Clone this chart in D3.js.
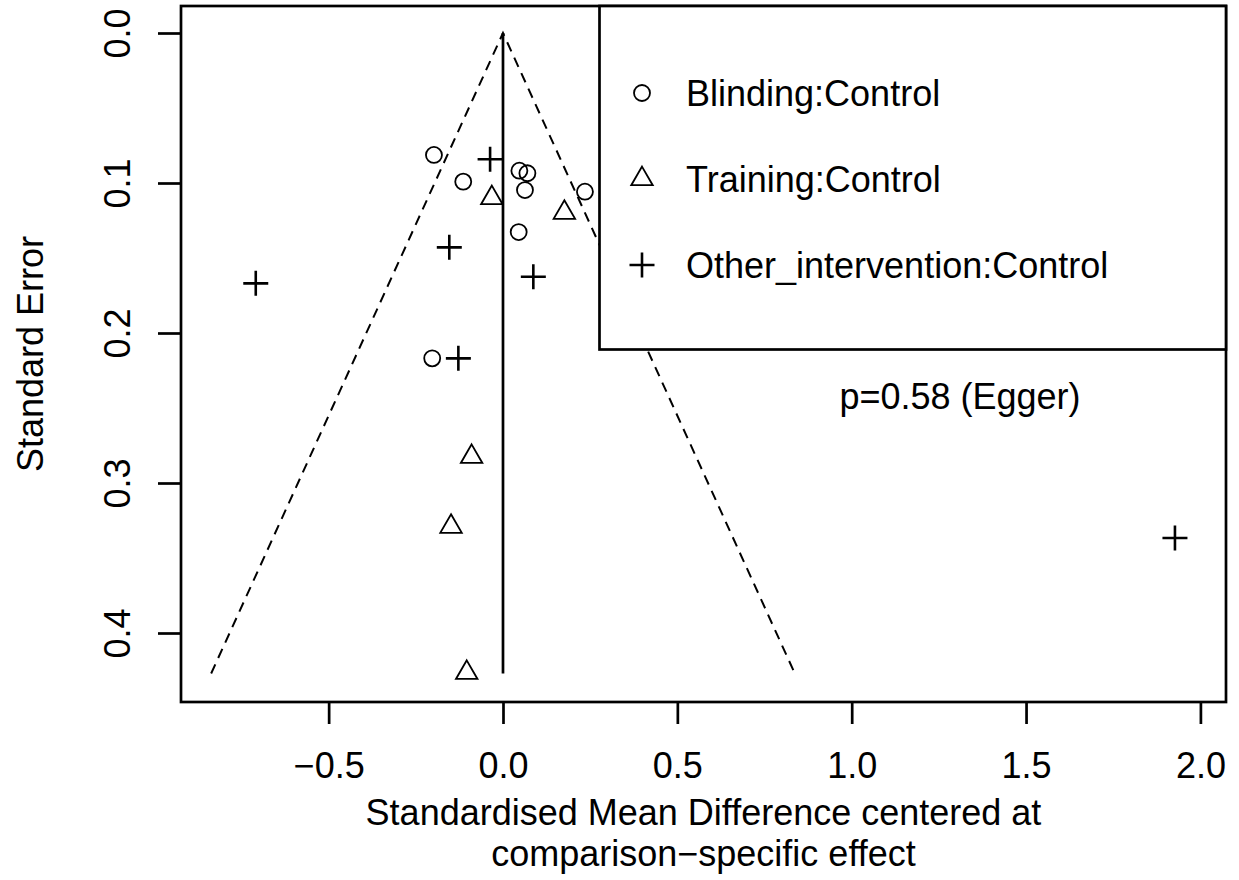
<!DOCTYPE html>
<html>
<head>
<meta charset="utf-8">
<script src="https://cdn.jsdelivr.net/npm/d3@7"></script>
<style>
  body { margin: 0; background: #fff; }
  text { font-family: "Liberation Sans", Arial, sans-serif; fill: #000; }
</style>
</head>
<body>
<script>
// data: comparison-specific centered SMD and its standard error
var blindingSMD = [-0.198, -0.114, 0.047, 0.070, 0.063, 0.045, 0.235, -0.203];
var blindingSE  = [0.0813, 0.0991, 0.0918, 0.0935, 0.1047, 0.1327, 0.1058, 0.2169];

var trainingSMD = [-0.032, 0.176, -0.090, -0.149, -0.104];
var trainingSE  = [0.110, 0.1198, 0.2825, 0.3291, 0.4265];

var otherSMD = [-0.037, -0.154, 0.087, -0.709, -0.128, 1.927];
var otherSE  = [0.0842, 0.1429, 0.1625, 0.1669, 0.2169, 0.3367];

var legendLabels = ['Blinding:Control', 'Training:Control', 'Other_intervention:Control'];
var xTicks = [-0.5, 0, 0.5, 1, 1.5, 2];
var yTicks = [0, 0.1, 0.2, 0.3, 0.4];
var maxSE = 0.427;
var eggerText = 'p=0.58 (Egger)';

var W = 1239, H = 880;
var box = { left: 181, right: 1226, top: 6, bottom: 702 };
var fs = 36;

var svg = d3.select('body')
  .append('svg')
    .attr('width', W)
    .attr('height', H);

// scales (R style 4% padding)
var x = d3.scaleLinear()
    .domain([-0.9234, 2.0734])
    .range([box.left, box.right]);
var y = d3.scaleLinear()
    .domain([-0.018, 0.446])
    .range([box.top, box.bottom]);

var fmt = function(d) { return d3.format('.1f')(d).replace('-', '\u2212'); };

// funnel
var funnel = [[-1.96 * maxSE, maxSE], [0, 0], [1.96 * maxSE, maxSE]];
svg.append('path')
  .attr('d', d3.line().x(function(d) { return x(d[0]); }).y(function(d) { return y(d[1]); })(funnel))
  .attr('fill', 'none')
  .attr('stroke', '#000')
  .attr('stroke-width', 2)
  .attr('stroke-dasharray', '10,7');

svg.append('line')
  .attr('x1', x(0)).attr('x2', x(0))
  .attr('y1', y(0)).attr('y2', y(maxSE))
  .attr('stroke', '#000')
  .attr('stroke-width', 2.7);

// points
function circles(g, xs, ys) {
  g.selectAll(null).data(xs).enter().append('circle')
    .attr('cx', function(d) { return x(d); })
    .attr('cy', function(d, i) { return y(ys[i]); })
    .attr('r', 8)
    .attr('fill', 'none')
    .attr('stroke', '#000')
    .attr('stroke-width', 1.8);
}
var tri = d3.symbol().type(d3.symbolTriangle).size(200);
function triangles(g, xs, ys) {
  g.selectAll(null).data(xs).enter().append('path')
    .attr('d', tri)
    .attr('transform', function(d, i) { return 'translate(' + x(d) + ',' + y(ys[i]) + ')'; })
    .attr('fill', 'none')
    .attr('stroke', '#000')
    .attr('stroke-width', 1.8);
}
function pluses(g, xs, ys) {
  g.selectAll(null).data(xs).enter().append('path')
    .attr('d', 'M-12.5,0H12.5M0,-12.5V12.5')
    .attr('transform', function(d, i) { return 'translate(' + x(d) + ',' + y(ys[i]) + ')'; })
    .attr('fill', 'none')
    .attr('stroke', '#000')
    .attr('stroke-width', 2.6);
}

var pts = svg.append('g');
circles(pts, blindingSMD, blindingSE);
triangles(pts, trainingSMD, trainingSE);
pluses(pts, otherSMD, otherSE);

// plot box
svg.append('rect')
  .attr('x', box.left).attr('y', box.top)
  .attr('width', box.right - box.left).attr('height', box.bottom - box.top)
  .attr('fill', 'none')
  .attr('stroke', '#000')
  .attr('stroke-width', 2.7);

// axes
var xAxis = d3.axisBottom(x).tickValues(xTicks).tickSize(22).tickFormat(fmt);
var gx = svg.append('g')
  .attr('transform', 'translate(0,' + box.bottom + ')')
  .call(xAxis);
gx.select('.domain').remove();
gx.selectAll('line').attr('stroke-width', 2.7);
gx.selectAll('text')
  .attr('font-size', fs)
  .attr('font-family', null)
  .attr('y', 76)
  .attr('dy', 0);

var yAxis = d3.axisLeft(y).tickValues(yTicks).tickSize(23).tickFormat(fmt);
var gy = svg.append('g')
  .attr('transform', 'translate(' + box.left + ',0)')
  .call(yAxis);
gy.select('.domain').remove();
gy.selectAll('line').attr('stroke-width', 2.7);
gy.selectAll('text')
  .attr('font-size', fs)
  .attr('font-family', null)
  .attr('x', 0).attr('dy', 0)
  .attr('text-anchor', 'middle')
  .attr('transform', 'translate(-51,0) rotate(-90)');
svg.selectAll('.tick text').attr('fill', '#000');

// axis titles
svg.append('text')
  .attr('x', (box.left + box.right) / 2).attr('y', 825)
  .attr('text-anchor', 'middle')
  .attr('font-size', fs)
  .text('Standardised Mean Difference centered at');
svg.append('text')
  .attr('x', (box.left + box.right) / 2).attr('y', 866)
  .attr('text-anchor', 'middle')
  .attr('font-size', fs)
  .text('comparison\u2212specific effect');

svg.append('text')
  .attr('transform', 'translate(43,' + (box.top + box.bottom) / 2 + ') rotate(-90)')
  .attr('text-anchor', 'middle')
  .attr('font-size', fs)
  .text('Standard Error');

// Egger test
svg.append('text')
  .attr('x', 960).attr('y', 409)
  .attr('text-anchor', 'middle')
  .attr('font-size', fs)
  .text(eggerText);

// legend
var lg = svg.append('g');
lg.append('rect')
  .attr('x', 599.5).attr('y', box.top)
  .attr('width', box.right - 599.5).attr('height', 349.5 - box.top)
  .attr('fill', '#fff')
  .attr('stroke', '#000')
  .attr('stroke-width', 2.7);

var rowY = [93, 179, 265];
circles(lg, [x.invert(642)], [y.invert(rowY[0])]);
triangles(lg, [x.invert(642)], [y.invert(rowY[1])]);
pluses(lg, [x.invert(642)], [y.invert(rowY[2])]);

lg.selectAll('text.lab').data(legendLabels).enter().append('text')
  .attr('class', 'lab')
  .attr('x', 686)
  .attr('y', function(d, i) { return rowY[i] + 13; })
  .attr('font-size', fs)
  .text(function(d) { return d; });
</script>
</body>
</html>
